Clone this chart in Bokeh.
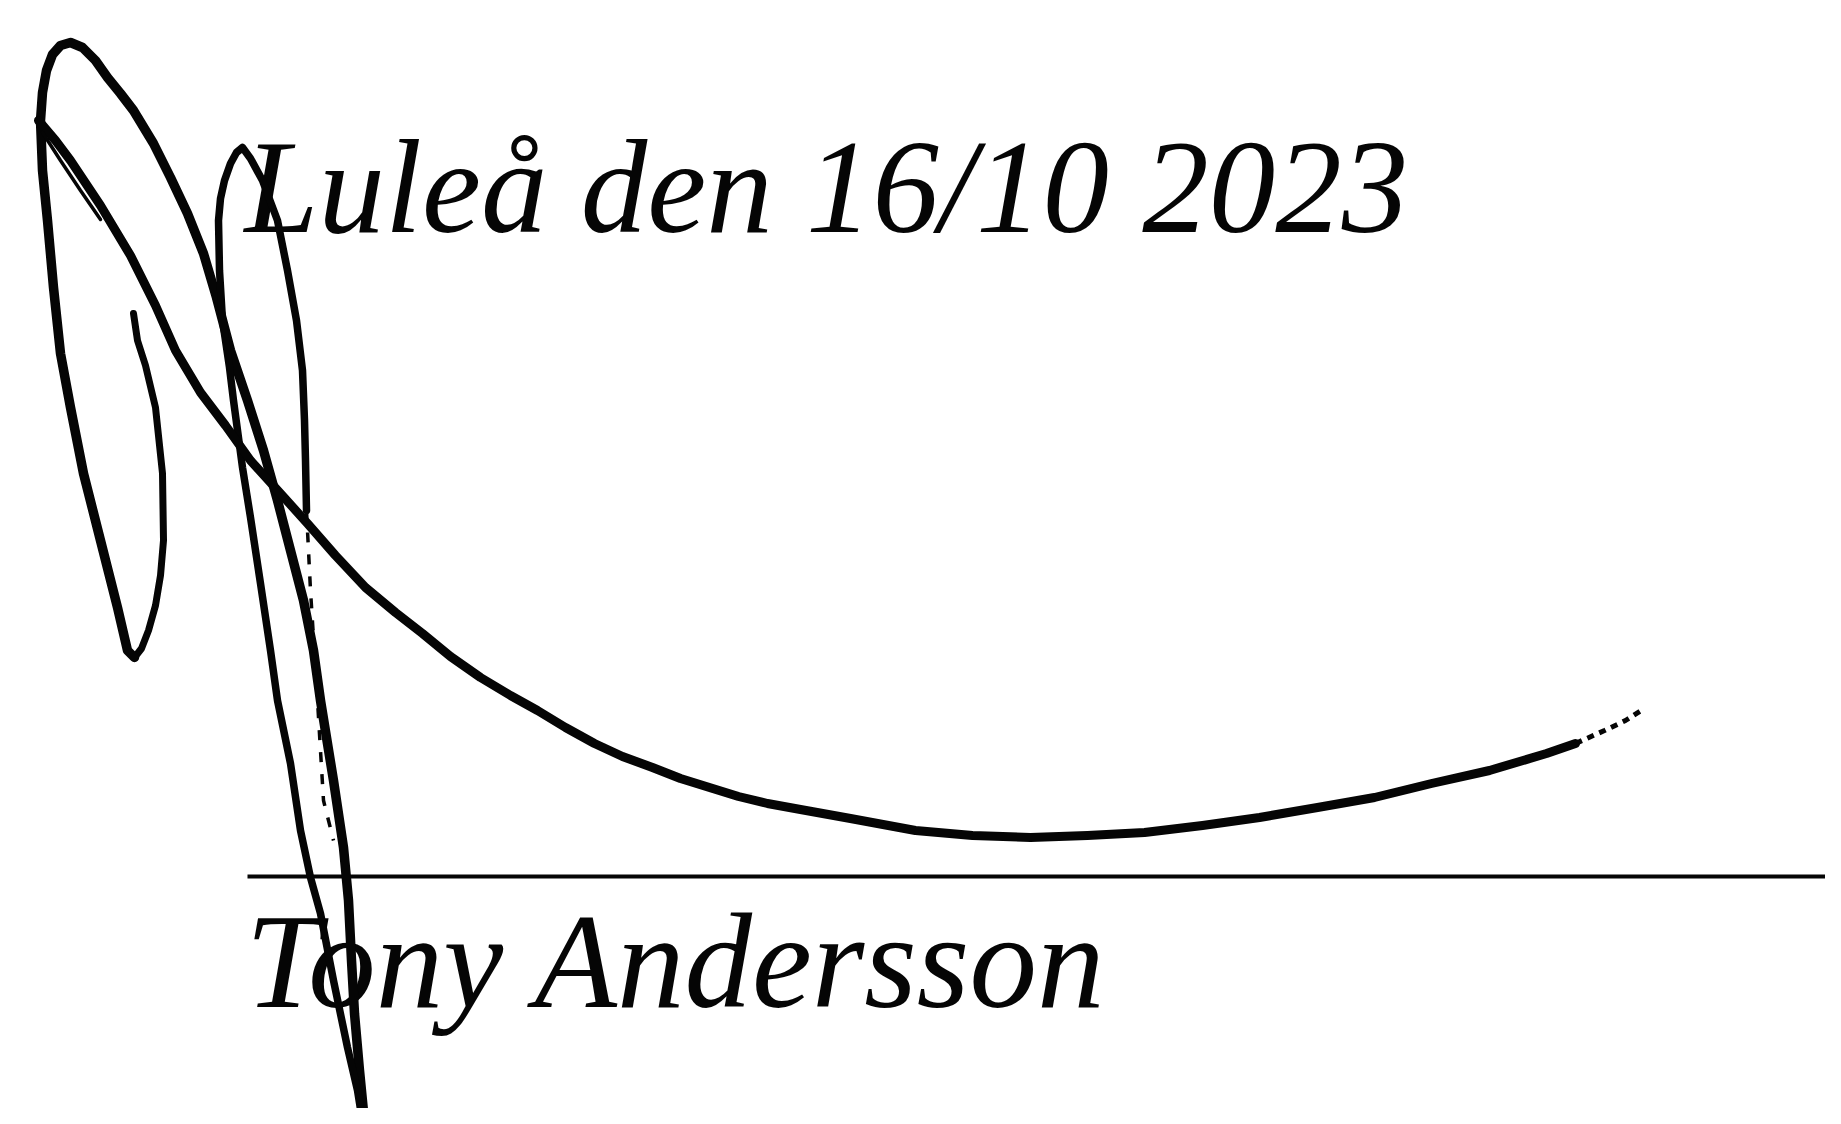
from bokeh.plotting import figure
from bokeh.models import Range1d
from bokeh.core.properties import value
from bokeh.embed import file_html
from bokeh.resources import INLINE

# ---- text content ----
date_text = ["Luleå den 16/10 2023"]
name_text = ["Tony Andersson"]

# ---- signature strokes (page pixel coordinates, y downward) ----
inner_loop_x = [133, 137, 145, 155, 162, 163, 160, 155, 148, 141, 134]
inner_loop_y = [313, 340, 365, 407, 473, 540, 575, 605, 630, 648, 657]

outer_loop_x = [134, 127, 117, 100, 83, 70, 60, 53, 47, 42, 40, 42, 46, 52, 60, 70, 82, 95, 107,
                120, 133, 153, 170, 187, 203, 216, 230, 247, 263, 277, 290, 303, 313, 320, 333,
                343, 348, 351, 354, 359, 364]
outer_loop_y = [657, 650, 607, 540, 473, 407, 353, 287, 220, 170, 120, 92, 70, 54, 45, 42, 47, 60,
                77, 93, 110, 143, 177, 213, 253, 297, 350, 400, 450, 500, 550, 600, 650, 700, 780,
                847, 900, 960, 1013, 1070, 1121]

l_loop_x = [362, 357, 347, 333, 320, 310, 300, 290, 277, 270, 260, 250, 242, 233, 229, 222, 219,
            218, 220, 224, 230, 236, 242, 250, 262, 277, 287, 296, 302, 304, 305, 306]
l_loop_y = [1121, 1090, 1047, 980, 913, 877, 830, 763, 700, 650, 583, 517, 467, 400, 367, 320,
            270, 220, 198, 180, 163, 152, 147, 158, 180, 220, 270, 320, 370, 420, 460, 510]

l_tail_x = [306, 310, 317, 323, 333]
l_tail_y = [510, 590, 700, 800, 840]

swoop_x = [38, 55, 70, 100, 130, 155, 175, 200, 225, 250, 280, 307, 335, 365, 395, 422, 450, 480,
           510, 537, 565, 594, 622, 652, 680, 709, 738, 767, 800, 850, 915, 972, 1030, 1087, 1144,
           1202, 1259, 1317, 1374, 1431, 1489, 1546, 1575]
swoop_y = [120, 140, 160, 205, 255, 305, 350, 392, 425, 460, 493, 523, 555, 587, 612, 633, 656,
           677, 695, 710, 727, 743, 756, 767, 778, 787, 796, 803, 809, 818, 830, 835, 837, 835, 832,
           825, 817, 807, 797, 783, 770, 753, 743]

swoop_tail_x = [1575, 1604, 1625, 1644]
swoop_tail_y = [743, 730, 720, 708]

thin_x = [42, 60, 80, 100]
thin_y = [132, 160, 190, 219]

# signature line
rule_x = [247, 1841]
rule_y = [876, 876]

W, H = 1825, 1108
p = figure(width=W, height=H, x_range=Range1d(0, W), y_range=Range1d(H, 0),
           output_backend="svg", toolbar_location=None, min_border=0,
           x_axis_type=None, y_axis_type=None)
p.grid.visible = False
p.outline_line_color = None
p.background_fill_color = "white"
p.border_fill_color = "white"

ink = "#050505"

p.line(rule_x, rule_y, line_color=ink, line_width=4)

font = value("Liberation Serif")
p.text(x=[244], y=[186], text=date_text, text_font=font, text_font_style="italic",
       text_font_size="133px", text_color=ink, text_baseline="alphabetic", text_align="left")
p.text(x=[245], y=[961], text=name_text, text_font=font, text_font_style="italic",
       text_font_size="135px", text_color=ink, text_baseline="alphabetic", text_align="left")

p.line(inner_loop_x, inner_loop_y, line_color=ink, line_width=7, line_join="round", line_cap="round")
p.line(outer_loop_x, outer_loop_y, line_color=ink, line_width=9.5, line_join="round", line_cap="round")
p.line(l_loop_x, l_loop_y, line_color=ink, line_width=7.5, line_join="round", line_cap="round")
p.line(l_tail_x, l_tail_y, line_color=ink, line_width=3.5, line_dash="10 12")
p.line(swoop_x, swoop_y, line_color=ink, line_width=9, line_join="round", line_cap="round")
p.line(swoop_tail_x, swoop_tail_y, line_color=ink, line_width=5, line_dash="7 6")
p.line(thin_x, thin_y, line_color=ink, line_width=3.5, line_cap="round")

open("out.html", "w").write(file_html(p, INLINE))
